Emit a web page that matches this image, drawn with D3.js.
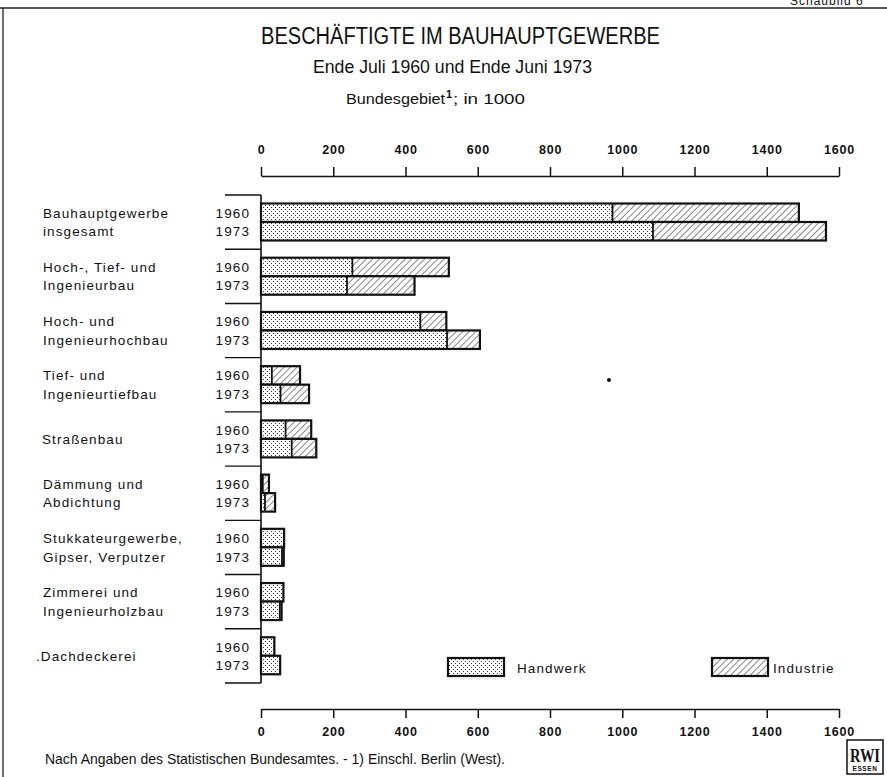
<!DOCTYPE html>
<html><head><meta charset="utf-8">
<script src="https://cdn.jsdelivr.net/npm/d3@7"></script>
<style>body{margin:0;background:#fff}svg{display:block}</style>
</head><body><svg id="c" width="887" height="777"></svg>
<script>
const categories = [
  "Bauhauptgewerbe|insgesamt",
  "Hoch-, Tief- und|Ingenieurbau",
  "Hoch- und|Ingenieurhochbau",
  "Tief- und|Ingenieurtiefbau",
  "Straßenbau",
  "Dämmung und|Abdichtung",
  "Stukkateurgewerbe,|Gipser, Verputzer",
  "Zimmerei und|Ingenieurholzbau",
  ".Dachdeckerei"
];
const years = ["1960", "1973"];
const handwerk1960  = [973, 253, 441, 30, 68, 5, 64, 62, 37];
const industrie1960 = [516, 267, 72, 78, 71, 17, 0, 0, 0];
const handwerk1973  = [1085, 238, 515, 54, 85, 11, 58, 52, 53];
const industrie1973 = [479, 187, 91, 79, 68, 28, 5, 5, 0];
const tickValues = [0, 200, 400, 600, 800, 1000, 1200, 1400, 1600];
const seriesNames = ["Handwerk", "Industrie"];

const svg = d3.select("#c");
const W = 887, H = 777;
const labelFont = "'Liberation Sans', Arial, sans-serif";
const narrowFont = "'Liberation Sans Narrow', 'Liberation Sans', sans-serif";

// patterns
const defs = svg.append("defs");
const dots = defs.append("pattern").attr("id", "dots").attr("patternUnits", "userSpaceOnUse")
  .attr("width", 4).attr("height", 4);
dots.append("rect").attr("width", 4).attr("height", 4).attr("fill", "#fff");
dots.append("rect").attr("x", 1).attr("y", 1).attr("width", 1).attr("height", 1).attr("fill", "#333").attr("shape-rendering", "crispEdges");
dots.append("rect").attr("x", 3).attr("y", 3).attr("width", 1).attr("height", 1).attr("fill", "#333").attr("shape-rendering", "crispEdges");
const hatch = defs.append("pattern").attr("id", "hatch").attr("patternUnits", "userSpaceOnUse")
  .attr("width", 4.6).attr("height", 4.6).attr("patternTransform", "rotate(45)");
hatch.append("rect").attr("width", 4.6).attr("height", 4.6).attr("fill", "#fff");
hatch.append("line").attr("x1", 0).attr("y1", 0).attr("x2", 0).attr("y2", 4.6)
  .attr("stroke", "#111").attr("stroke-width", 1);

// frame
svg.append("line").attr("x1", 0).attr("x2", W).attr("y1", 8).attr("y2", 8).attr("stroke", "#222").attr("stroke-width", 1.3);
svg.append("line").attr("x1", 3).attr("x2", 3).attr("y1", 8).attr("y2", H).attr("stroke", "#222").attr("stroke-width", 1.3);
svg.append("text").attr("x", 790).attr("y", 5).attr("font-family", labelFont).attr("font-size", 12)
  .attr("letter-spacing", 1).attr("fill", "#111").text("Schaubild 6");

// titles
svg.append("text").attr("x", 261).attr("y", 44).attr("font-family", narrowFont).attr("font-size", 23)
  .attr("textLength", 399).attr("lengthAdjust", "spacingAndGlyphs").attr("fill", "#111")
  .text("BESCHÄFTIGTE IM BAUHAUPTGEWERBE");
svg.append("text").attr("x", 313).attr("y", 73).attr("font-family", narrowFont).attr("font-size", 18.5)
  .attr("textLength", 279).attr("lengthAdjust", "spacingAndGlyphs").attr("fill", "#111")
  .text("Ende Juli 1960 und Ende Juni 1973");
svg.append("text").attr("x", 346).attr("y", 104).attr("font-family", narrowFont).attr("font-size", 15.5)
  .attr("textLength", 99).attr("lengthAdjust", "spacingAndGlyphs").attr("fill", "#111").text("Bundesgebiet");
svg.append("text").attr("x", 446).attr("y", 98).attr("font-family", narrowFont).attr("font-size", 11)
  .attr("font-weight", "bold").attr("fill", "#111").text("1");
svg.append("text").attr("x", 453).attr("y", 104).attr("font-family", narrowFont).attr("font-size", 15.5)
  .attr("textLength", 72).attr("lengthAdjust", "spacingAndGlyphs").attr("fill", "#111").text("; in 1000");

// scales
const x = d3.scaleLinear().domain([0, 1600]).range([261, 839]);
const y = d3.scaleBand().domain(categories).range([195, 683]).paddingInner(0).paddingOuter(0);
const bw = y.bandwidth();
const barH = 18.5;
const yearOffset = { "1960": 8.5, "1973": 27 };

// axes
const topAxis = d3.axisTop(x).tickValues(tickValues).tickSize(9).tickSizeOuter(0).tickPadding(13)
  .tickFormat(d3.format("d"));
const gTop = svg.append("g").attr("transform", "translate(0,176)").call(topAxis);
const botAxis = d3.axisBottom(x).tickValues(tickValues).tickSize(9).tickSizeOuter(0).tickPadding(9)
  .tickFormat(d3.format("d"));
const gBot = svg.append("g").attr("transform", "translate(0,709)").call(botAxis);
[gTop, gBot].forEach(g => {
  g.select(".domain").attr("stroke", "#111").attr("stroke-width", 1.5);
  g.selectAll(".tick line").attr("stroke", "#111").attr("stroke-width", 1.5);
  g.selectAll(".tick text").attr("font-family", narrowFont).attr("font-size", 12.5)
    .attr("font-weight", "bold").attr("letter-spacing", 0.8).attr("fill", "#111");
});

// left bracket
svg.append("line").attr("x1", 261).attr("x2", 261).attr("y1", 195).attr("y2", 683)
  .attr("stroke", "#111").attr("stroke-width", 1.6);
const bounds = categories.map(c => y(c)).concat([y(categories[categories.length - 1]) + bw]);
svg.selectAll("line.sep").data(bounds).enter().append("line").attr("class", "sep")
  .attr("x1", 225).attr("x2", 261).attr("y1", d => d).attr("y2", d => d)
  .attr("stroke", "#111").attr("stroke-width", 1.4);

// build bar data
const rows = [];
categories.forEach((c, i) => {
  rows.push({ cat: c, year: "1960", h: handwerk1960[i], ind: industrie1960[i] });
  rows.push({ cat: c, year: "1973", h: handwerk1973[i], ind: industrie1973[i] });
});

const g = svg.append("g");
rows.forEach(r => {
  const y0 = y(r.cat) + yearOffset[r.year];
  g.append("rect").attr("x", x(0)).attr("y", y0).attr("width", x(r.h) - x(0)).attr("height", barH)
    .attr("fill", "url(#dots)");
  if (r.ind > 0) {
    g.append("rect").attr("x", x(r.h)).attr("y", y0).attr("width", x(r.h + r.ind) - x(r.h)).attr("height", barH)
      .attr("fill", "url(#hatch)");
    g.append("line").attr("x1", x(r.h)).attr("x2", x(r.h)).attr("y1", y0).attr("y2", y0 + barH)
      .attr("stroke", "#111").attr("stroke-width", 1.8);
  }
  g.append("rect").attr("x", x(0)).attr("y", y0).attr("width", x(r.h + r.ind) - x(0)).attr("height", barH)
    .attr("fill", "none").attr("stroke", "#111").attr("stroke-width", 2.2);
  svg.append("text").attr("x", 250).attr("y", y0 + barH / 2 + 5).attr("text-anchor", "end")
    .attr("font-family", labelFont).attr("font-size", 13.5).attr("letter-spacing", 1.1).attr("fill", "#111")
    .text(r.year);
});

// category labels
categories.forEach(c => {
  const lines = c.split("|");
  const mid = y(c) + bw / 2;
  const t = svg.append("text").attr("font-family", labelFont).attr("font-size", 13.5)
    .attr("letter-spacing", 1.1).attr("fill", "#111");
  if (lines.length === 2) {
    lines.forEach((l, k) => {
      t.append("tspan").attr("x", 43).attr("y", y(c) + yearOffset[years[k]] + barH / 2 + 5).text(l);
    });
  } else {
    t.attr("x", c.startsWith(".") ? 36 : 42).attr("y", mid + 5).text(lines[0]);
  }
});

// legend
const legend = [
  { name: seriesNames[0], fill: "url(#dots)", bx: 448, tx: 517 },
  { name: seriesNames[1], fill: "url(#hatch)", bx: 712, tx: 773 }
];
legend.forEach(l => {
  svg.append("rect").attr("x", l.bx).attr("y", 658).attr("width", 56).attr("height", 18)
    .attr("fill", l.fill).attr("stroke", "#111").attr("stroke-width", 2.2);
  svg.append("text").attr("x", l.tx).attr("y", 673).attr("font-family", labelFont).attr("font-size", 13.5)
    .attr("letter-spacing", 1.1).attr("fill", "#111").text(l.name);
});

// stray dot
svg.append("circle").attr("cx", 609).attr("cy", 380).attr("r", 2).attr("fill", "#111");

// footer
svg.append("text").attr("x", 45).attr("y", 764).attr("font-family", narrowFont).attr("font-size", 14.5)
  .attr("textLength", 460).attr("lengthAdjust", "spacingAndGlyphs").attr("fill", "#111")
  .text("Nach Angaben des Statistischen Bundesamtes. - 1) Einschl. Berlin (West).");

// RWI logo
svg.append("rect").attr("x", 847).attr("y", 740).attr("width", 36).attr("height", 34)
  .attr("fill", "#fff").attr("stroke", "#111").attr("stroke-width", 1.5);
svg.append("text").attr("x", 865).attr("y", 762).attr("text-anchor", "middle")
  .attr("font-family", "'Liberation Serif', serif").attr("font-weight", "bold").attr("font-size", 19)
  .attr("textLength", 30).attr("lengthAdjust", "spacingAndGlyphs").attr("fill", "#111").text("RWI");
svg.append("text").attr("x", 865).attr("y", 771).attr("text-anchor", "middle")
  .attr("font-family", labelFont).attr("font-weight", "bold").attr("font-size", 6.5)
  .attr("letter-spacing", 0.6).attr("fill", "#111").text("ESSEN");
</script></body></html>
